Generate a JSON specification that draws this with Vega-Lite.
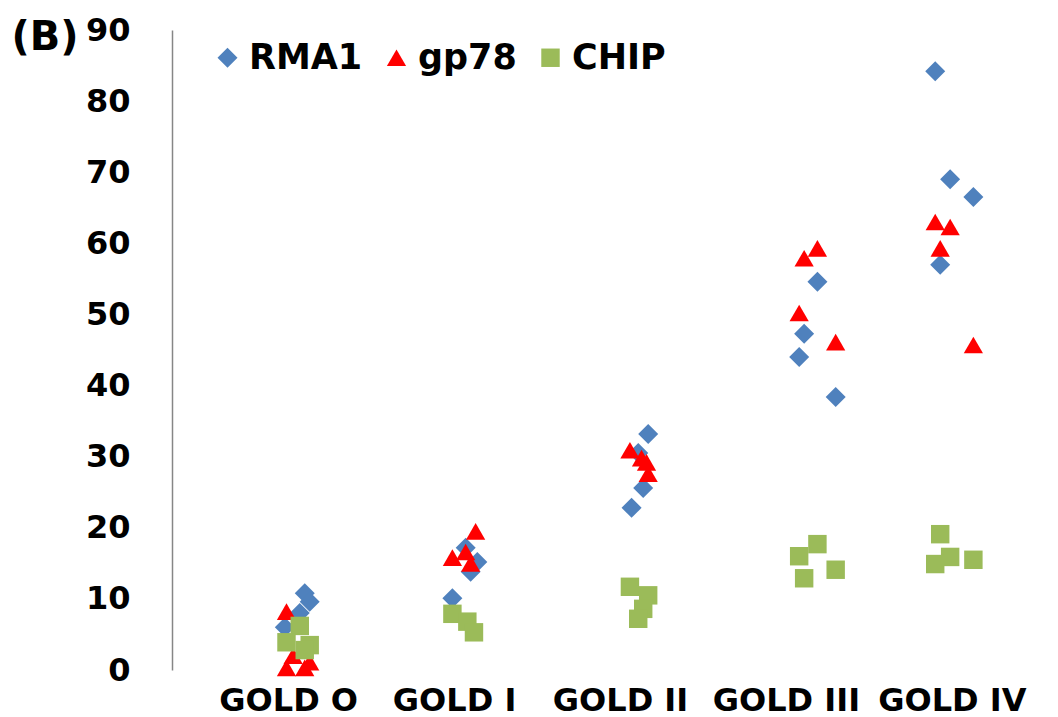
{
  "$schema": "https://vega.github.io/schema/vega-lite/v6.json",
  "width": 886,
  "height": 640,
  "autosize": {"type": "none"},
  "padding": {"left": 172, "top": 30, "right": 0, "bottom": 47},
  "background": "white",
  "config": {"view": {"stroke": null}},
  "data": {
    "values": [
      {"stage": "GOLD O", "series": "RMA1", "pos": 1.10, "value": 10.8},
      {"stage": "GOLD O", "series": "RMA1", "pos": 1.13, "value": 9.6},
      {"stage": "GOLD O", "series": "RMA1", "pos": 1.07, "value": 8.0},
      {"stage": "GOLD O", "series": "RMA1", "pos": 0.98, "value": 6.0},
      {"stage": "GOLD I", "series": "RMA1", "pos": 2.07, "value": 17.2},
      {"stage": "GOLD I", "series": "RMA1", "pos": 2.14, "value": 15.2},
      {"stage": "GOLD I", "series": "RMA1", "pos": 2.10, "value": 13.8},
      {"stage": "GOLD I", "series": "RMA1", "pos": 1.99, "value": 10.1},
      {"stage": "GOLD II", "series": "RMA1", "pos": 3.17, "value": 33.2},
      {"stage": "GOLD II", "series": "RMA1", "pos": 3.11, "value": 30.5},
      {"stage": "GOLD II", "series": "RMA1", "pos": 3.14, "value": 25.6},
      {"stage": "GOLD II", "series": "RMA1", "pos": 3.07, "value": 22.8},
      {"stage": "GOLD III", "series": "RMA1", "pos": 4.19, "value": 54.6},
      {"stage": "GOLD III", "series": "RMA1", "pos": 4.11, "value": 47.3},
      {"stage": "GOLD III", "series": "RMA1", "pos": 4.08, "value": 44.0},
      {"stage": "GOLD III", "series": "RMA1", "pos": 4.30, "value": 38.4},
      {"stage": "GOLD IV", "series": "RMA1", "pos": 4.90, "value": 84.2},
      {"stage": "GOLD IV", "series": "RMA1", "pos": 4.99, "value": 69.0},
      {"stage": "GOLD IV", "series": "RMA1", "pos": 5.13, "value": 66.5},
      {"stage": "GOLD IV", "series": "RMA1", "pos": 4.93, "value": 57.0},
      {"stage": "GOLD O", "series": "gp78", "pos": 0.99, "value": 8.2},
      {"stage": "GOLD O", "series": "gp78", "pos": 1.03, "value": 2.0},
      {"stage": "GOLD O", "series": "gp78", "pos": 0.99, "value": 0.3},
      {"stage": "GOLD O", "series": "gp78", "pos": 1.10, "value": 0.3},
      {"stage": "GOLD O", "series": "gp78", "pos": 1.13, "value": 1.1},
      {"stage": "GOLD I", "series": "gp78", "pos": 2.13, "value": 19.5},
      {"stage": "GOLD I", "series": "gp78", "pos": 1.99, "value": 15.8},
      {"stage": "GOLD I", "series": "gp78", "pos": 2.07, "value": 16.6},
      {"stage": "GOLD I", "series": "gp78", "pos": 2.10, "value": 15.0},
      {"stage": "GOLD II", "series": "gp78", "pos": 3.06, "value": 30.9},
      {"stage": "GOLD II", "series": "gp78", "pos": 3.13, "value": 29.8},
      {"stage": "GOLD II", "series": "gp78", "pos": 3.16, "value": 29.2},
      {"stage": "GOLD II", "series": "gp78", "pos": 3.17, "value": 27.6},
      {"stage": "GOLD III", "series": "gp78", "pos": 4.19, "value": 59.3},
      {"stage": "GOLD III", "series": "gp78", "pos": 4.11, "value": 57.9},
      {"stage": "GOLD III", "series": "gp78", "pos": 4.08, "value": 50.2},
      {"stage": "GOLD III", "series": "gp78", "pos": 4.30, "value": 46.1},
      {"stage": "GOLD IV", "series": "gp78", "pos": 4.90, "value": 63.0},
      {"stage": "GOLD IV", "series": "gp78", "pos": 4.99, "value": 62.3},
      {"stage": "GOLD IV", "series": "gp78", "pos": 4.93, "value": 59.3},
      {"stage": "GOLD IV", "series": "gp78", "pos": 5.13, "value": 45.7},
      {"stage": "GOLD O", "series": "CHIP", "pos": 1.07, "value": 6.2},
      {"stage": "GOLD O", "series": "CHIP", "pos": 0.99, "value": 3.9},
      {"stage": "GOLD O", "series": "CHIP", "pos": 1.13, "value": 3.5},
      {"stage": "GOLD O", "series": "CHIP", "pos": 1.10, "value": 2.8},
      {"stage": "GOLD I", "series": "CHIP", "pos": 1.99, "value": 7.9},
      {"stage": "GOLD I", "series": "CHIP", "pos": 2.08, "value": 6.8},
      {"stage": "GOLD I", "series": "CHIP", "pos": 2.12, "value": 5.3},
      {"stage": "GOLD II", "series": "CHIP", "pos": 3.06, "value": 11.7},
      {"stage": "GOLD II", "series": "CHIP", "pos": 3.17, "value": 10.5},
      {"stage": "GOLD II", "series": "CHIP", "pos": 3.14, "value": 8.6},
      {"stage": "GOLD II", "series": "CHIP", "pos": 3.11, "value": 7.2},
      {"stage": "GOLD III", "series": "CHIP", "pos": 4.19, "value": 17.7},
      {"stage": "GOLD III", "series": "CHIP", "pos": 4.08, "value": 16.0},
      {"stage": "GOLD III", "series": "CHIP", "pos": 4.30, "value": 14.1},
      {"stage": "GOLD III", "series": "CHIP", "pos": 4.11, "value": 12.9},
      {"stage": "GOLD IV", "series": "CHIP", "pos": 4.93, "value": 19.1},
      {"stage": "GOLD IV", "series": "CHIP", "pos": 4.99, "value": 15.9},
      {"stage": "GOLD IV", "series": "CHIP", "pos": 5.13, "value": 15.5},
      {"stage": "GOLD IV", "series": "CHIP", "pos": 4.90, "value": 14.9}
    ]
  },
  "mark": {"type": "point", "filled": true, "opacity": 1, "strokeWidth": 0},
  "encoding": {
    "x": {
      "field": "pos",
      "type": "quantitative",
      "scale": {"domain": [0.3, 5.64], "nice": false, "zero": false},
      "axis": {
        "title": null,
        "values": [1, 2, 3, 4, 5],
        "labelExpr": "['GOLD O','GOLD I','GOLD II','GOLD III','GOLD IV'][datum.value - 1]",
        "domain": false,
        "ticks": false,
        "grid": false,
        "labelFont": "DejaVu Sans",
        "labelFontWeight": "bold",
        "labelFontSize": 32,
        "labelColor": "black",
        "labelPadding": 15,
        "labelOverlap": false
      }
    },
    "y": {
      "field": "value",
      "type": "quantitative",
      "scale": {"domain": [0, 90], "nice": false},
      "axis": {
        "title": "(B)",
        "titleAngle": 0,
        "titleX": -161,
        "titleY": 19,
        "titleAlign": "left",
        "titleBaseline": "alphabetic",
        "titleFont": "DejaVu Sans",
        "titleFontWeight": "bold",
        "titleFontSize": 40,
        "titleColor": "black",
        "values": [0, 10, 20, 30, 40, 50, 60, 70, 80, 90],
        "grid": false,
        "ticks": false,
        "domainColor": "#868686",
        "domainWidth": 1.5,
        "labelFont": "DejaVu Sans",
        "labelFontWeight": "bold",
        "labelFontSize": 32,
        "labelColor": "black",
        "labelPadding": 42,
        "labelOverlap": false
      }
    },
    "color": {
      "field": "series",
      "type": "nominal",
      "scale": {"domain": ["RMA1", "gp78", "CHIP"], "range": ["#4F81BD", "#FF0000", "#9BBB59"]},
      "legend": {
        "title": null,
        "orient": "none",
        "direction": "horizontal",
        "legendX": 38,
        "legendY": 10,
        "labelFont": "DejaVu Sans",
        "labelFontWeight": "bold",
        "labelFontSize": 35,
        "labelColor": "black",
        "labelOffset": 4,
        "columnPadding": 16,
        "symbolSize": 360,
        "symbolStrokeWidth": 0
      }
    },
    "shape": {
      "field": "series",
      "type": "nominal",
      "scale": {"domain": ["RMA1", "gp78", "CHIP"], "range": ["diamond", "triangle-up", "square"]}
    },
    "size": {
      "field": "series",
      "type": "nominal",
      "scale": {"domain": ["RMA1", "gp78", "CHIP"], "range": [400, 340, 400]},
      "legend": null
    }
  }
}
